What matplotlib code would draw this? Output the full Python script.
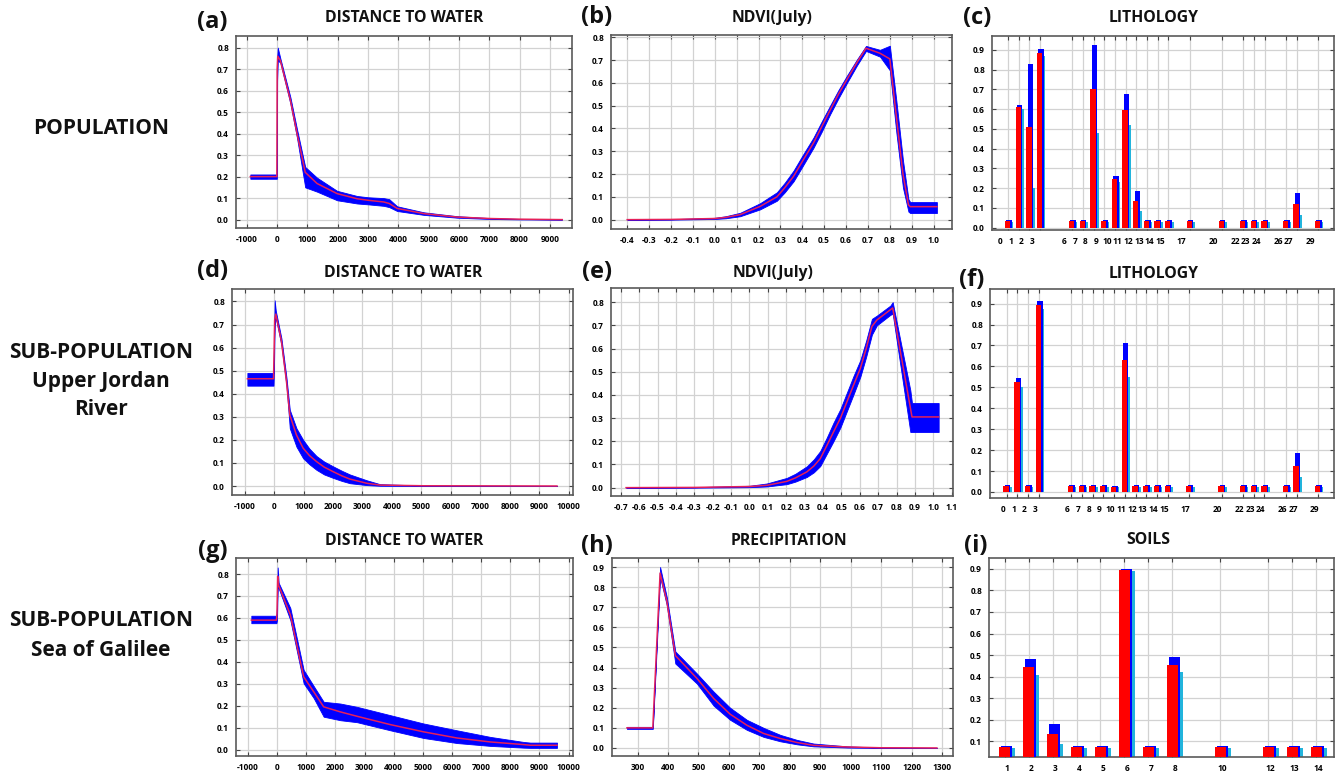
import matplotlib
matplotlib.use('Agg')
import matplotlib.pyplot as plt
import numpy as np

plt.rcParams['font.family'] = ['Open Sans', 'DejaVu Sans']
plt.rcParams['font.weight'] = 'bold'
plt.rcParams['axes.unicode_minus'] = False

# ---------------- DATA ----------------
row_labels = [["POPULATION"], ["SUB-POPULATION", "Upper Jordan", "River"],
              ["SUB-POPULATION", "Sea of Galilee"]]
titles = ["DISTANCE TO WATER", "NDVI(July)", "LITHOLOGY",
          "DISTANCE TO WATER", "NDVI(July)", "LITHOLOGY",
          "DISTANCE TO WATER", "PRECIPITATION", "SOILS"]
letters = ["(a)", "(b)", "(c)", "(d)", "(e)", "(f)", "(g)", "(h)", "(i)"]

# (a) distance to water - population
a_x    = [-880, -5, 5, 25, 110, 440, 660, 930, 1320, 1980, 2640, 3000, 3520, 3700, 3960, 4840, 5930, 7030, 8000, 9400]
a_mean = [0.20, 0.20, 0.70, 0.76, 0.74, 0.556, 0.40, 0.22, 0.168, 0.121, 0.097, 0.09, 0.082, 0.075, 0.052, 0.028, 0.012, 0.005, 0.002, 0.0]
a_hi   = [0.21, 0.21, 0.75, 0.80, 0.75, 0.57, 0.42, 0.245, 0.195, 0.134, 0.11, 0.104, 0.10, 0.095, 0.062, 0.034, 0.016, 0.007, 0.003, 0.001]
a_lo   = [0.19, 0.19, 0.65, 0.74, 0.73, 0.54, 0.38, 0.15, 0.13, 0.09, 0.075, 0.071, 0.064, 0.058, 0.04, 0.022, 0.009, 0.003, 0.001, 0.0]

# (b) NDVI - population
b_x    = [-0.40, -0.20, 0.00, 0.05, 0.116, 0.207, 0.284, 0.32, 0.36, 0.40, 0.451, 0.49, 0.527, 0.565, 0.603, 0.65, 0.691, 0.755, 0.80, 0.83, 0.86, 0.885, 0.893, 1.015]
b_mean = [0.0, 0.001, 0.005, 0.01, 0.022, 0.058, 0.10, 0.14, 0.19, 0.255, 0.336, 0.41, 0.48, 0.55, 0.613, 0.69, 0.752, 0.73, 0.705, 0.45, 0.20, 0.065, 0.057, 0.057]
b_hi   = [0.0, 0.002, 0.008, 0.015, 0.030, 0.072, 0.12, 0.162, 0.215, 0.28, 0.36, 0.433, 0.50, 0.568, 0.63, 0.703, 0.762, 0.745, 0.763, 0.52, 0.26, 0.09, 0.077, 0.077]
b_lo   = [0.0, 0.0, 0.003, 0.006, 0.015, 0.045, 0.083, 0.12, 0.168, 0.232, 0.315, 0.388, 0.462, 0.532, 0.598, 0.677, 0.74, 0.715, 0.655, 0.38, 0.14, 0.035, 0.029, 0.029]

# (c) lithology - population
c_cats = [0, 1, 2, 3, 6, 7, 8, 9, 10, 11, 12, 13, 14, 15, 17, 20, 22, 23, 24, 26, 27, 29]
c_mean = [0.035, 0.61, 0.51, 0.885, 0.035, 0.035, 0.70, 0.035, 0.245, 0.595, 0.135, 0.035, 0.035, 0.035, 0.035, 0.035, 0.035, 0.035, 0.035, 0.035, 0.12, 0.035]
c_hi   = [0.04, 0.62, 0.83, 0.905, 0.04, 0.04, 0.925, 0.04, 0.26, 0.675, 0.185, 0.04, 0.04, 0.04, 0.04, 0.04, 0.04, 0.04, 0.04, 0.04, 0.175, 0.04]
c_lo   = [0.03, 0.60, 0.20, 0.87, 0.03, 0.03, 0.48, 0.03, 0.23, 0.52, 0.085, 0.03, 0.03, 0.03, 0.03, 0.03, 0.03, 0.03, 0.03, 0.03, 0.065, 0.03]

# (d) distance to water - Upper Jordan River
d_x    = [-907, -20, -5, 20, 57, 249, 420, 533, 760, 986, 1200, 1440, 1700, 2007, 2300, 2574, 3141, 3594, 5068, 9603]
d_mean = [0.465, 0.465, 0.55, 0.72, 0.745, 0.627, 0.453, 0.308, 0.221, 0.164, 0.132, 0.106, 0.082, 0.062, 0.044, 0.030, 0.012, 0.004, 0.001, 0.0]
d_hi   = [0.49, 0.49, 0.60, 0.805, 0.76, 0.64, 0.47, 0.33, 0.25, 0.20, 0.162, 0.13, 0.106, 0.085, 0.066, 0.05, 0.025, 0.008, 0.002, 0.0]
d_lo   = [0.435, 0.435, 0.50, 0.70, 0.73, 0.61, 0.435, 0.25, 0.17, 0.12, 0.094, 0.07, 0.05, 0.035, 0.022, 0.012, 0.004, 0.001, 0.0, 0.0]

# (e) NDVI - Upper Jordan River
e_x    = [-0.671, -0.3, 0.0, 0.094, 0.203, 0.25, 0.312, 0.35, 0.385, 0.42, 0.457, 0.495, 0.53, 0.565, 0.603, 0.635, 0.666, 0.693, 0.766, 0.779, 0.875, 0.884, 1.029]
e_mean = [0.0, 0.001, 0.005, 0.01, 0.027, 0.042, 0.068, 0.093, 0.125, 0.18, 0.24, 0.30, 0.37, 0.44, 0.514, 0.60, 0.695, 0.723, 0.767, 0.775, 0.345, 0.305, 0.305]
e_hi   = [0.0, 0.002, 0.008, 0.018, 0.042, 0.06, 0.092, 0.122, 0.158, 0.215, 0.28, 0.34, 0.41, 0.48, 0.55, 0.635, 0.728, 0.742, 0.785, 0.80, 0.42, 0.365, 0.365]
e_lo   = [0.0, 0.0, 0.002, 0.005, 0.015, 0.026, 0.046, 0.066, 0.093, 0.145, 0.20, 0.26, 0.33, 0.40, 0.478, 0.565, 0.66, 0.70, 0.745, 0.75, 0.24, 0.24, 0.24]

# (f) lithology - Upper Jordan River
f_cats = [0, 1, 2, 3, 6, 7, 8, 9, 10, 11, 12, 13, 14, 15, 17, 20, 22, 23, 24, 26, 27, 29]
f_mean = [0.03, 0.525, 0.03, 0.895, 0.03, 0.03, 0.03, 0.03, 0.025, 0.63, 0.03, 0.03, 0.03, 0.03, 0.03, 0.03, 0.03, 0.03, 0.03, 0.03, 0.125, 0.03]
f_hi   = [0.035, 0.545, 0.035, 0.915, 0.035, 0.035, 0.035, 0.035, 0.028, 0.71, 0.035, 0.035, 0.035, 0.035, 0.035, 0.035, 0.035, 0.035, 0.035, 0.035, 0.185, 0.035]
f_lo   = [0.025, 0.50, 0.025, 0.875, 0.025, 0.025, 0.025, 0.025, 0.022, 0.55, 0.025, 0.025, 0.025, 0.025, 0.025, 0.025, 0.025, 0.025, 0.025, 0.025, 0.07, 0.025]

# (g) distance to water - Sea of Galilee
g_x    = [-880, -20, 0, 23, 57, 457, 914, 1257, 1600, 2171, 2743, 3886, 5029, 6171, 7314, 8457, 8686, 9600]
g_mean = [0.59, 0.59, 0.62, 0.79, 0.748, 0.614, 0.332, 0.264, 0.195, 0.172, 0.152, 0.114, 0.081, 0.053, 0.035, 0.023, 0.02, 0.02]
g_hi   = [0.61, 0.61, 0.65, 0.83, 0.76, 0.645, 0.363, 0.29, 0.218, 0.21, 0.195, 0.157, 0.119, 0.088, 0.058, 0.035, 0.032, 0.032]
g_lo   = [0.576, 0.576, 0.59, 0.75, 0.735, 0.59, 0.302, 0.235, 0.15, 0.134, 0.125, 0.088, 0.053, 0.03, 0.017, 0.009, 0.008, 0.008]

# (h) precipitation - Sea of Galilee
h_x    = [265, 350, 374, 396, 424, 495, 550, 604, 659, 714, 769, 824, 878, 988, 1097, 1283]
h_mean = [0.10, 0.10, 0.87, 0.73, 0.46, 0.346, 0.246, 0.168, 0.113, 0.072, 0.047, 0.027, 0.013, 0.005, 0.001, 0.0]
h_hi   = [0.105, 0.105, 0.90, 0.75, 0.48, 0.37, 0.28, 0.20, 0.14, 0.10, 0.065, 0.04, 0.022, 0.008, 0.002, 0.0]
h_lo   = [0.095, 0.095, 0.85, 0.71, 0.42, 0.32, 0.21, 0.14, 0.09, 0.055, 0.033, 0.018, 0.008, 0.002, 0.0, 0.0]

# (i) soils - Sea of Galilee
i_cats = [1, 2, 3, 4, 5, 6, 7, 8, 10, 12, 13, 14]
i_mean = [0.075, 0.445, 0.135, 0.075, 0.075, 0.895, 0.075, 0.455, 0.075, 0.075, 0.075, 0.075]
i_hi   = [0.08, 0.48, 0.18, 0.08, 0.08, 0.90, 0.08, 0.49, 0.08, 0.08, 0.08, 0.08]
i_lo   = [0.068, 0.41, 0.09, 0.068, 0.068, 0.89, 0.068, 0.42, 0.068, 0.068, 0.068, 0.068]

# tick labels
dist_ticks_a = [-1000, 0, 1000, 2000, 3000, 4000, 5000, 6000, 7000, 8000, 9000]
dist_ticks_d = [-1000, 0, 1000, 2000, 3000, 4000, 5000, 6000, 7000, 8000, 9000, 10000]
ndvi_ticks_b = [-0.4, -0.3, -0.2, -0.1, 0.0, 0.1, 0.2, 0.3, 0.4, 0.5, 0.6, 0.7, 0.8, 0.9, 1.0]
ndvi_ticks_e = [-0.7, -0.6, -0.5, -0.4, -0.3, -0.2, -0.1, 0.0, 0.1, 0.2, 0.3, 0.4, 0.5, 0.6, 0.7, 0.8, 0.9, 1.0, 1.1]
prec_ticks = [300, 400, 500, 600, 700, 800, 900, 1000, 1100, 1200, 1300]
y_ticks_08 = [0.0, 0.1, 0.2, 0.3, 0.4, 0.5, 0.6, 0.7, 0.8]
y_ticks_09 = [0.0, 0.1, 0.2, 0.3, 0.4, 0.5, 0.6, 0.7, 0.8, 0.9]
y_ticks_i = [0.1, 0.2, 0.3, 0.4, 0.5, 0.6, 0.7, 0.8, 0.9]

# ---------------- STYLE ----------------
W, H = 1337, 773
fig = plt.figure(figsize=(W / 100, H / 100), dpi=100)
RED = '#ff0000'
BLUE = '#0000ff'
CYAN = '#22b4dc'
LINE = '#e5205a'
TICK_SIZE = 6.0


def rect(l, t, r, b):
    return [l / W, 1 - b / H, (r - l) / W, (b - t) / H]


def fmt(v, dec):
    return f"{v:.{dec}f}" if dec else f"{int(round(v))}"


def style(ax, xlim, ylim, yticks, xticks=None, xdec=0):
    ax.set_xlim(xlim)
    ax.set_ylim(ylim)
    ax.set_yticks(yticks)
    ax.set_yticklabels([fmt(v, 1) for v in yticks])
    if xticks is not None:
        ax.set_xticks(xticks)
        ax.set_xticklabels([fmt(v, xdec) for v in xticks])
    ax.grid(True, which='major', color='#d2d2d2', lw=0.9)
    ax.set_axisbelow(True)
    ax.tick_params(which='major', direction='in', top=True, right=True, length=3,
                   width=0.8, color='#444444', labelsize=TICK_SIZE, pad=5)
    for sp in ax.spines.values():
        sp.set_color('#5a5a5a')
        sp.set_linewidth(1.2)
    for lbl in ax.get_xticklabels(which='both') + ax.get_yticklabels():
        lbl.set_fontweight('bold')


def curve(ax, x, mean, lo, hi):
    ax.fill_between(x, lo, hi, color=BLUE, lw=0.6, zorder=2)
    ax.plot(x, mean, color=LINE, lw=1.1, zorder=3)


def bars(ax, cats, mean, hi, lo, offs, width, label_shift):
    cats = np.asarray(cats, dtype=float)
    ax.bar(cats + offs[2], lo, width=width, color=CYAN, zorder=2, lw=0)
    ax.bar(cats + offs[1], hi, width=width, color=BLUE, zorder=3, lw=0)
    ax.bar(cats + offs[0], mean, width=width, color=RED, zorder=4, lw=0)
    ax.set_xticks(cats)
    ax.set_xticklabels([''] * len(cats))
    ax.set_xticks(cats + label_shift, minor=True)
    ax.set_xticklabels([str(int(c)) for c in cats], minor=True)
    ax.tick_params(which='minor', length=0, labelsize=TICK_SIZE, pad=5)
    for lbl in ax.get_xticklabels(which='minor'):
        lbl.set_fontweight('bold')


rects = [rect(236, 36, 572, 228), rect(611, 35, 952, 229), rect(992, 36, 1334, 230),
         rect(232, 289, 573, 495), rect(611, 288, 953, 496), rect(990, 289, 1334, 498),
         rect(236, 558, 573, 756), rect(612, 558, 953, 756), rect(989, 558, 1334, 757)]
axs = [fig.add_axes(r) for r in rects]

# (a)
curve(axs[0], a_x, a_mean, a_lo, a_hi)
style(axs[0], (-1352, 9725), (-0.039, 0.854), y_ticks_08, dist_ticks_a, 0)
# (b)
curve(axs[1], b_x, b_mean, b_lo, b_hi)
style(axs[1], (-0.474, 1.084), (-0.041, 0.81), y_ticks_08, ndvi_ticks_b, 1)
# (c)
bars(axs[2], c_cats, c_mean, c_hi, c_lo, (-0.05, 0.09, 0.24), 0.5, -0.75)
style(axs[2], (-1.5, 30.5), (-0.012, 0.97), y_ticks_09)
# (d)
curve(axs[3], d_x, d_mean, d_lo, d_hi)
style(axs[3], (-1429, 10147), (-0.039, 0.854), y_ticks_08, dist_ticks_d, 0)
# (e)
curve(axs[4], e_x, e_mean, e_lo, e_hi)
style(axs[4], (-0.753, 1.107), (-0.036, 0.861), y_ticks_08, ndvi_ticks_e, 1)
# (f)
bars(axs[5], f_cats, f_mean, f_hi, f_lo, (-0.05, 0.09, 0.24), 0.5, -0.35)
style(axs[5], (-1.55, 30.47), (-0.029, 0.97), y_ticks_09)
# (g)
curve(axs[6], g_x, g_mean, g_lo, g_hi)
style(axs[6], (-1406, 10149), (-0.029, 0.873), y_ticks_08, dist_ticks_d, 0)
# (h)
curve(axs[7], h_x, h_mean, h_lo, h_hi)
style(axs[7], (216, 1336), (-0.04, 0.945), y_ticks_09, prec_ticks, 0)
# (i)
bars(axs[8], i_cats, i_mean, i_hi, i_lo, (0.0, 0.1, 0.2), 0.46, 0.1)
style(axs[8], (0.35, 14.74), (0.028, 0.95), y_ticks_i)

# ---------------- TEXT ----------------
renderer = fig.canvas.get_renderer()


def fit_size(s, target_w, base=12):
    t = fig.text(0, 0, s, fontsize=base, fontweight='bold')
    w = t.get_window_extent(renderer).width
    t.remove()
    return base * target_w / w


def put(x, y, s, size):
    fig.text(x / W, 1 - y / H, s, fontsize=size, fontweight='bold',
             ha='center', va='center', color='#111111')


title_size = fit_size("DISTANCE TO WATER", 158)
letter_size = fit_size("(a)", 30)
row_size = fit_size("SUB-POPULATION", 183)

title_pos = [(404, 18), (772, 18), (1154, 18),
             (403, 273), (773, 273), (1154, 274),
             (404, 541), (789, 541), (1148, 540)]
letter_pos = [(212, 22), (597, 17), (977, 18),
              (213, 271), (597, 272), (972, 280),
              (213, 551), (597, 546), (976, 546)]
for s, (x, y) in zip(titles, title_pos):
    put(x, y, s, title_size)
for s, (x, y) in zip(letters, letter_pos):
    put(x, y, s, letter_size)

row_y = [[128], [352, 381, 409], [621, 650]]
for lines, ys in zip(row_labels, row_y):
    for s, y in zip(lines, ys):
        put(101, y, s, row_size)

fig.savefig('out.png', dpi=100)
